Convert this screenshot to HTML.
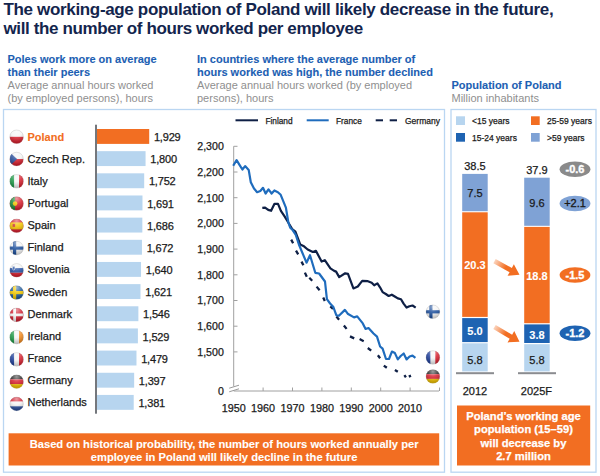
<!DOCTYPE html><html><head><meta charset="utf-8"><style>html,body{margin:0;padding:0;background:#fff;width:600px;height:476px;overflow:hidden}svg{display:block}text{font-family:"Liberation Sans",sans-serif}</style></head><body>
<svg width="600" height="476" viewBox="0 0 600 476">
<defs>
<clipPath id="cc"><circle cx="0" cy="0" r="7"/></clipPath>
<radialGradient id="gloss" cx="0.5" cy="0.15" r="0.75"><stop offset="0" stop-color="#fff" stop-opacity="0.55"/><stop offset="0.5" stop-color="#fff" stop-opacity="0.15"/><stop offset="1" stop-color="#000" stop-opacity="0.2"/></radialGradient>
<linearGradient id="arrg" x1="0" y1="0" x2="1" y2="0"><stop offset="0" stop-color="#f26e22" stop-opacity="0.3"/><stop offset="0.45" stop-color="#f26e22" stop-opacity="1"/></linearGradient>
</defs>
<text x="3.5" y="15" font-size="17" font-weight="bold" fill="#13254d" letter-spacing="-0.34">The working-age population of Poland will likely decrease in the future,</text>
<text x="3.5" y="34" font-size="17" font-weight="bold" fill="#13254d" letter-spacing="-0.38">will the number of hours worked per employee</text>
<text x="7.5" y="62.5" font-size="11" fill="#1d5fb3" font-weight="bold" stroke="#1d5fb3" stroke-width="0.1">Poles work more on average</text>
<text x="7.5" y="75.5" font-size="11" fill="#1d5fb3" font-weight="bold" stroke="#1d5fb3" stroke-width="0.1">than their peers</text>
<text x="7.5" y="89.2" font-size="11" fill="#8f8f8f">Average annual hours worked</text>
<text x="7.5" y="101.7" font-size="11" fill="#8f8f8f">(by employed persons), hours</text>
<text x="197" y="62.5" font-size="11" fill="#1d5fb3" font-weight="bold" stroke="#1d5fb3" stroke-width="0.1">In countries where the average number of</text>
<text x="197" y="75.5" font-size="11" fill="#1d5fb3" font-weight="bold" stroke="#1d5fb3" stroke-width="0.1">hours worked was high, the number declined</text>
<text x="197" y="89.2" font-size="11" fill="#8f8f8f">Average annual hours worked (by employed</text>
<text x="197" y="101.7" font-size="11" fill="#8f8f8f">persons), hours</text>
<text x="451.5" y="89.2" font-size="11" fill="#1d5fb3" font-weight="bold" stroke="#1d5fb3" stroke-width="0.1">Population of Poland</text>
<text x="451.5" y="101.7" font-size="11" fill="#8f8f8f">Million inhabitants</text>
<rect x="3.5" y="109.5" width="441" height="362.7" fill="none" stroke="#bad6f2" stroke-width="1.3"/>
<rect x="451" y="109.5" width="145" height="362.7" fill="none" stroke="#bad6f2" stroke-width="1.3"/>
<g transform="translate(16.60 136.80)"><g clip-path="url(#cc)"><rect x="-7" y="-7" width="14" height="7" fill="#f4f4f4"/><rect x="-7" y="0" width="14" height="7" fill="#d7202e"/><circle r="7" fill="url(#gloss)"/></g><circle r="6.8" fill="none" stroke="#9a9a9a" stroke-opacity="0.5" stroke-width="0.5"/></g>
<text x="27.5" y="140.70" font-size="11" fill="#f26e22" font-weight="bold" stroke="#f26e22" stroke-width="0.1">Poland</text>
<rect x="97" y="129.00" width="52.21" height="14.9" fill="#f26e22"/>
<text x="153.91" y="141.10" font-size="11" fill="#1a1a1a" stroke="#1a1a1a" stroke-width="0.25" letter-spacing="-0.18">1,929</text>
<g transform="translate(16.60 159.06)"><g clip-path="url(#cc)"><rect x="-7" y="-7" width="14" height="7" fill="#f4f4f4"/><rect x="-7" y="0" width="14" height="7" fill="#d7202e"/><path d="M-7,-7 L0.5,0 L-7,7Z" fill="#2a4f9c"/><circle r="7" fill="url(#gloss)"/></g><circle r="6.8" fill="none" stroke="#9a9a9a" stroke-opacity="0.5" stroke-width="0.5"/></g>
<text x="27.5" y="162.83" font-size="11" fill="#1a1a1a" stroke="#1a1a1a" stroke-width="0.25">Czech Rep.</text>
<rect x="97" y="151.16" width="48.56" height="14.9" fill="#b7d5ef"/>
<text x="150.26" y="163.27" font-size="11" fill="#1a1a1a" stroke="#1a1a1a" stroke-width="0.25" letter-spacing="-0.18">1,800</text>
<g transform="translate(16.60 181.32)"><g clip-path="url(#cc)"><rect x="-7" y="-7" width="4.7" height="14" fill="#1f9a48"/><rect x="-2.3" y="-7" width="4.7" height="14" fill="#f4f4f4"/><rect x="2.4" y="-7" width="4.6" height="14" fill="#d7202e"/><circle r="7" fill="url(#gloss)"/></g><circle r="6.8" fill="none" stroke="#9a9a9a" stroke-opacity="0.5" stroke-width="0.5"/></g>
<text x="27.5" y="184.96" font-size="11" fill="#1a1a1a" stroke="#1a1a1a" stroke-width="0.25">Italy</text>
<rect x="97" y="173.32" width="47.20" height="14.9" fill="#b7d5ef"/>
<text x="148.90" y="185.44" font-size="11" fill="#1a1a1a" stroke="#1a1a1a" stroke-width="0.25" letter-spacing="-0.18">1,752</text>
<g transform="translate(16.60 203.58)"><g clip-path="url(#cc)"><rect x="-7" y="-7" width="14" height="14" fill="#d7202e"/><rect x="-7" y="-7" width="5.5" height="14" fill="#1f8a3a"/><circle cx="-1.5" cy="0" r="2.3" fill="#f2c200"/><circle r="7" fill="url(#gloss)"/></g><circle r="6.8" fill="none" stroke="#9a9a9a" stroke-opacity="0.5" stroke-width="0.5"/></g>
<text x="27.5" y="207.09" font-size="11" fill="#1a1a1a" stroke="#1a1a1a" stroke-width="0.25">Portugal</text>
<rect x="97" y="195.48" width="45.48" height="14.9" fill="#b7d5ef"/>
<text x="147.18" y="207.61" font-size="11" fill="#1a1a1a" stroke="#1a1a1a" stroke-width="0.25" letter-spacing="-0.18">1,691</text>
<g transform="translate(16.60 225.84)"><g clip-path="url(#cc)"><rect x="-7" y="-7" width="14" height="14" fill="#d7202e"/><rect x="-7" y="-3.5" width="14" height="7" fill="#f4c300"/><rect x="-4" y="-2" width="2.5" height="3" fill="#c33"/><circle r="7" fill="url(#gloss)"/></g><circle r="6.8" fill="none" stroke="#9a9a9a" stroke-opacity="0.5" stroke-width="0.5"/></g>
<text x="27.5" y="229.22" font-size="11" fill="#1a1a1a" stroke="#1a1a1a" stroke-width="0.25">Spain</text>
<rect x="97" y="217.64" width="45.34" height="14.9" fill="#b7d5ef"/>
<text x="147.04" y="229.78" font-size="11" fill="#1a1a1a" stroke="#1a1a1a" stroke-width="0.25" letter-spacing="-0.18">1,686</text>
<g transform="translate(16.60 248.10)"><g clip-path="url(#cc)"><rect x="-7" y="-7" width="14" height="14" fill="#f4f4f4"/><rect x="-7" y="-1.6" width="14" height="3.2" fill="#1d4f9c"/><rect x="-3.6" y="-7" width="3.2" height="14" fill="#1d4f9c"/><circle r="7" fill="url(#gloss)"/></g><circle r="6.8" fill="none" stroke="#9a9a9a" stroke-opacity="0.5" stroke-width="0.5"/></g>
<text x="27.5" y="251.35" font-size="11" fill="#1a1a1a" stroke="#1a1a1a" stroke-width="0.25">Finland</text>
<rect x="97" y="239.80" width="44.94" height="14.9" fill="#b7d5ef"/>
<text x="146.64" y="251.95" font-size="11" fill="#1a1a1a" stroke="#1a1a1a" stroke-width="0.25" letter-spacing="-0.18">1,672</text>
<g transform="translate(16.60 270.36)"><g clip-path="url(#cc)"><rect x="-7" y="-7" width="14" height="4.7" fill="#f4f4f4"/><rect x="-7" y="-2.3" width="14" height="4.7" fill="#2450a3"/><rect x="-7" y="2.4" width="14" height="4.6" fill="#d7202e"/><path d="M-4.2,-4 h2.6 v2.6 l-1.3,1.3 l-1.3,-1.3Z" fill="#2450a3" stroke="#eee" stroke-width="0.6"/><circle r="7" fill="url(#gloss)"/></g><circle r="6.8" fill="none" stroke="#9a9a9a" stroke-opacity="0.5" stroke-width="0.5"/></g>
<text x="27.5" y="273.48" font-size="11" fill="#1a1a1a" stroke="#1a1a1a" stroke-width="0.25">Slovenia</text>
<rect x="97" y="261.96" width="44.03" height="14.9" fill="#b7d5ef"/>
<text x="145.73" y="274.12" font-size="11" fill="#1a1a1a" stroke="#1a1a1a" stroke-width="0.25" letter-spacing="-0.18">1,640</text>
<g transform="translate(16.60 292.62)"><g clip-path="url(#cc)"><rect x="-7" y="-7" width="14" height="14" fill="#1f5a9c"/><rect x="-7" y="-1.6" width="14" height="3.2" fill="#f2c800"/><rect x="-3.6" y="-7" width="3.2" height="14" fill="#f2c800"/><circle r="7" fill="url(#gloss)"/></g><circle r="6.8" fill="none" stroke="#9a9a9a" stroke-opacity="0.5" stroke-width="0.5"/></g>
<text x="27.5" y="295.61" font-size="11" fill="#1a1a1a" stroke="#1a1a1a" stroke-width="0.25">Sweden</text>
<rect x="97" y="284.12" width="43.50" height="14.9" fill="#b7d5ef"/>
<text x="145.20" y="296.29" font-size="11" fill="#1a1a1a" stroke="#1a1a1a" stroke-width="0.25" letter-spacing="-0.18">1,621</text>
<g transform="translate(16.60 314.88)"><g clip-path="url(#cc)"><rect x="-7" y="-7" width="14" height="14" fill="#d21f30"/><rect x="-7" y="-1.4" width="14" height="2.8" fill="#f4f4f4"/><rect x="-3.4" y="-7" width="2.8" height="14" fill="#f4f4f4"/><circle r="7" fill="url(#gloss)"/></g><circle r="6.8" fill="none" stroke="#9a9a9a" stroke-opacity="0.5" stroke-width="0.5"/></g>
<text x="27.5" y="317.74" font-size="11" fill="#1a1a1a" stroke="#1a1a1a" stroke-width="0.25">Denmark</text>
<rect x="97" y="306.28" width="41.37" height="14.9" fill="#b7d5ef"/>
<text x="143.07" y="318.46" font-size="11" fill="#1a1a1a" stroke="#1a1a1a" stroke-width="0.25" letter-spacing="-0.18">1,546</text>
<g transform="translate(16.60 337.14)"><g clip-path="url(#cc)"><rect x="-7" y="-7" width="4.7" height="14" fill="#1f9a48"/><rect x="-2.3" y="-7" width="4.7" height="14" fill="#f4f4f4"/><rect x="2.4" y="-7" width="4.6" height="14" fill="#f28a1e"/><circle r="7" fill="url(#gloss)"/></g><circle r="6.8" fill="none" stroke="#9a9a9a" stroke-opacity="0.5" stroke-width="0.5"/></g>
<text x="27.5" y="339.87" font-size="11" fill="#1a1a1a" stroke="#1a1a1a" stroke-width="0.25">Ireland</text>
<rect x="97" y="328.44" width="40.89" height="14.9" fill="#b7d5ef"/>
<text x="142.59" y="340.63" font-size="11" fill="#1a1a1a" stroke="#1a1a1a" stroke-width="0.25" letter-spacing="-0.18">1,529</text>
<g transform="translate(16.60 359.40)"><g clip-path="url(#cc)"><rect x="-7" y="-7" width="4.7" height="14" fill="#1f3f9a"/><rect x="-2.3" y="-7" width="4.7" height="14" fill="#f4f4f4"/><rect x="2.4" y="-7" width="4.6" height="14" fill="#d7202e"/><circle r="7" fill="url(#gloss)"/></g><circle r="6.8" fill="none" stroke="#9a9a9a" stroke-opacity="0.5" stroke-width="0.5"/></g>
<text x="27.5" y="362.00" font-size="11" fill="#1a1a1a" stroke="#1a1a1a" stroke-width="0.25">France</text>
<rect x="97" y="350.60" width="39.48" height="14.9" fill="#b7d5ef"/>
<text x="141.18" y="362.80" font-size="11" fill="#1a1a1a" stroke="#1a1a1a" stroke-width="0.25" letter-spacing="-0.18">1,479</text>
<g transform="translate(16.60 381.66)"><g clip-path="url(#cc)"><rect x="-7" y="-7" width="14" height="4.7" fill="#222"/><rect x="-7" y="-2.3" width="14" height="4.7" fill="#d7202e"/><rect x="-7" y="2.4" width="14" height="4.6" fill="#f2c200"/><circle r="7" fill="url(#gloss)"/></g><circle r="6.8" fill="none" stroke="#9a9a9a" stroke-opacity="0.5" stroke-width="0.5"/></g>
<text x="27.5" y="384.13" font-size="11" fill="#1a1a1a" stroke="#1a1a1a" stroke-width="0.25">Germany</text>
<rect x="97" y="372.76" width="37.16" height="14.9" fill="#b7d5ef"/>
<text x="138.86" y="384.97" font-size="11" fill="#1a1a1a" stroke="#1a1a1a" stroke-width="0.25" letter-spacing="-0.18">1,397</text>
<g transform="translate(16.60 403.92)"><g clip-path="url(#cc)"><rect x="-7" y="-7" width="14" height="4.7" fill="#d21f30"/><rect x="-7" y="-2.3" width="14" height="4.7" fill="#f4f4f4"/><rect x="-7" y="2.4" width="14" height="4.6" fill="#2a4f9c"/><circle r="7" fill="url(#gloss)"/></g><circle r="6.8" fill="none" stroke="#9a9a9a" stroke-opacity="0.5" stroke-width="0.5"/></g>
<text x="27.5" y="406.26" font-size="11" fill="#1a1a1a" stroke="#1a1a1a" stroke-width="0.25">Netherlands</text>
<rect x="97" y="394.92" width="36.71" height="14.9" fill="#b7d5ef"/>
<text x="138.41" y="407.14" font-size="11" fill="#1a1a1a" stroke="#1a1a1a" stroke-width="0.25" letter-spacing="-0.18">1,381</text>
<rect x="95" y="124.7" width="2" height="289" fill="#74777c"/>
<line x1="233.7" y1="146.3" x2="233.7" y2="386.3" stroke="#a0a0a0" stroke-width="1"/>
<line x1="233.7" y1="146.30" x2="237.5" y2="146.30" stroke="#a0a0a0" stroke-width="1"/>
<text x="223.8" y="150.20" font-size="10.6" fill="#1a1a1a" text-anchor="end" stroke="#1a1a1a" stroke-width="0.25">2,300</text>
<line x1="233.7" y1="172.00" x2="237.5" y2="172.00" stroke="#a0a0a0" stroke-width="1"/>
<text x="223.8" y="175.90" font-size="10.6" fill="#1a1a1a" text-anchor="end" stroke="#1a1a1a" stroke-width="0.25">2,200</text>
<line x1="233.7" y1="197.70" x2="237.5" y2="197.70" stroke="#a0a0a0" stroke-width="1"/>
<text x="223.8" y="201.60" font-size="10.6" fill="#1a1a1a" text-anchor="end" stroke="#1a1a1a" stroke-width="0.25">2,100</text>
<line x1="233.7" y1="223.40" x2="237.5" y2="223.40" stroke="#a0a0a0" stroke-width="1"/>
<text x="223.8" y="227.30" font-size="10.6" fill="#1a1a1a" text-anchor="end" stroke="#1a1a1a" stroke-width="0.25">2,000</text>
<line x1="233.7" y1="249.10" x2="237.5" y2="249.10" stroke="#a0a0a0" stroke-width="1"/>
<text x="223.8" y="253.00" font-size="10.6" fill="#1a1a1a" text-anchor="end" stroke="#1a1a1a" stroke-width="0.25">1,900</text>
<line x1="233.7" y1="274.80" x2="237.5" y2="274.80" stroke="#a0a0a0" stroke-width="1"/>
<text x="223.8" y="278.70" font-size="10.6" fill="#1a1a1a" text-anchor="end" stroke="#1a1a1a" stroke-width="0.25">1,800</text>
<line x1="233.7" y1="300.50" x2="237.5" y2="300.50" stroke="#a0a0a0" stroke-width="1"/>
<text x="223.8" y="304.40" font-size="10.6" fill="#1a1a1a" text-anchor="end" stroke="#1a1a1a" stroke-width="0.25">1,700</text>
<line x1="233.7" y1="326.20" x2="237.5" y2="326.20" stroke="#a0a0a0" stroke-width="1"/>
<text x="223.8" y="330.10" font-size="10.6" fill="#1a1a1a" text-anchor="end" stroke="#1a1a1a" stroke-width="0.25">1,600</text>
<line x1="233.7" y1="351.90" x2="237.5" y2="351.90" stroke="#a0a0a0" stroke-width="1"/>
<text x="223.8" y="355.80" font-size="10.6" fill="#1a1a1a" text-anchor="end" stroke="#1a1a1a" stroke-width="0.25">1,500</text>
<text x="223.8" y="395.2" font-size="10.6" fill="#1a1a1a" text-anchor="end" stroke="#1a1a1a" stroke-width="0.25">0</text>
<line x1="233.7" y1="391" x2="439" y2="391" stroke="#a0a0a0" stroke-width="1"/>
<line x1="263.10" y1="387.5" x2="263.10" y2="391" stroke="#a0a0a0" stroke-width="1"/>
<line x1="292.50" y1="387.5" x2="292.50" y2="391" stroke="#a0a0a0" stroke-width="1"/>
<line x1="321.90" y1="387.5" x2="321.90" y2="391" stroke="#a0a0a0" stroke-width="1"/>
<line x1="351.30" y1="387.5" x2="351.30" y2="391" stroke="#a0a0a0" stroke-width="1"/>
<line x1="380.70" y1="387.5" x2="380.70" y2="391" stroke="#a0a0a0" stroke-width="1"/>
<line x1="410.10" y1="387.5" x2="410.10" y2="391" stroke="#a0a0a0" stroke-width="1"/>
<line x1="439.50" y1="387.5" x2="439.50" y2="391" stroke="#a0a0a0" stroke-width="1"/>
<text x="233.70" y="411.9" font-size="10.8" fill="#1a1a1a" text-anchor="middle" stroke="#1a1a1a" stroke-width="0.25">1950</text>
<text x="263.10" y="411.9" font-size="10.8" fill="#1a1a1a" text-anchor="middle" stroke="#1a1a1a" stroke-width="0.25">1960</text>
<text x="292.50" y="411.9" font-size="10.8" fill="#1a1a1a" text-anchor="middle" stroke="#1a1a1a" stroke-width="0.25">1970</text>
<text x="321.90" y="411.9" font-size="10.8" fill="#1a1a1a" text-anchor="middle" stroke="#1a1a1a" stroke-width="0.25">1980</text>
<text x="351.30" y="411.9" font-size="10.8" fill="#1a1a1a" text-anchor="middle" stroke="#1a1a1a" stroke-width="0.25">1990</text>
<text x="380.70" y="411.9" font-size="10.8" fill="#1a1a1a" text-anchor="middle" stroke="#1a1a1a" stroke-width="0.25">2000</text>
<text x="410.10" y="411.9" font-size="10.8" fill="#1a1a1a" text-anchor="middle" stroke="#1a1a1a" stroke-width="0.25">2010</text>
<line x1="229.2" y1="388.2" x2="239" y2="385.2" stroke="#999" stroke-width="1"/>
<line x1="229.2" y1="391.8" x2="239" y2="388.8" stroke="#999" stroke-width="1"/>
<path d="M291.2,239.6 L293.1,243.2 M296.0,250.6 L298.2,254.3 M301.5,261.6 L303.4,265.3 M304.9,272.6 L306.8,276.8 M309.3,277.8 L312.2,280.7 M316.6,286.6 L319.6,290.3 M323.2,297.5 L324.8,300.9 M330.3,306.4 L333.0,308.8 M336.4,316.6 L339.1,319.7 M343.9,325.5 L346.6,328.9 M350.0,336.4 L354.2,338.4 M359.6,339.1 L363.7,341.2 M367.8,348.0 L371.2,350.7 M377.9,355.3 L380.1,358.2 M383.8,365.6 L386.8,367.8 M394.9,370.0 L397.8,371.8 M404.4,375.1 L405.9,377.4 M408.8,376.6 L411.0,375.6" fill="none" stroke="#0e1f45" stroke-width="2.3"/>
<polyline points="262.3,207.9 265.1,207.6 268.2,209.9 271.1,210.8 274.5,203.8 278.0,203.8 280.9,210.8 284.6,216.4 288.4,222.7 292.2,229.0 295.4,231.6 300.2,244.5 304.0,246.3 307.7,249.5 312.8,252.0 315.9,250.8 321.6,261.5 324.8,260.2 330.4,268.4 334.2,270.9 336.1,271.6 339.2,277.1 345.2,273.3 348.0,273.9 353.4,288.4 357.8,286.5 362.2,280.9 367.9,281.2 371.7,282.7 374.2,285.3 377.4,283.4 380.0,287.3 382.6,292.1 385.8,294.0 388.7,296.0 391.8,294.7 395.2,296.8 397.8,298.4 401.0,299.2 403.6,303.6 406.6,307.6 409.4,306.2 412.5,305.5 415.7,307.6" fill="none" stroke="#0e1f45" stroke-width="2.2" stroke-linejoin="round"/>
<polyline points="233.2,165.8 236.6,160.1 239.5,164.9 242.4,169.5 245.1,166.1 248.7,169.9 250.8,182.2 254.0,188.5 257.1,192.2 260.3,191.0 263.0,187.8 265.6,193.5 268.5,189.3 271.6,193.5 274.4,190.4 277.9,192.2 280.7,194.8 285.9,207.6 288.4,222.7 290.3,227.8 292.8,230.3 295.8,235.0 298.9,244.5 306.5,262.7 310.0,255.2 315.3,272.8 319.1,273.5 325.0,281.5 326.9,299.1 330.1,303.5 333.2,306.7 336.3,315.2 338.9,315.8 344.9,309.9 347.7,313.7 354.0,317.4 357.2,316.4 362.8,323.4 365.6,329.0 368.5,328.0 373.5,333.5 377.0,336.6 380.1,346.5 382.6,348.7 386.0,359.0 389.0,359.0 391.9,351.6 394.9,353.1 397.8,359.4 400.7,356.0 403.7,353.5 406.6,359.4 409.6,356.5 412.5,355.6 415.4,357.9" fill="none" stroke="#1f6cbd" stroke-width="2.2" stroke-linejoin="round"/>
<g transform="translate(432.90 311.80)"><g clip-path="url(#cc)"><rect x="-7" y="-7" width="14" height="14" fill="#f4f4f4"/><rect x="-7" y="-1.6" width="14" height="3.2" fill="#1d4f9c"/><rect x="-3.6" y="-7" width="3.2" height="14" fill="#1d4f9c"/><circle r="7" fill="url(#gloss)"/></g><circle r="6.8" fill="none" stroke="#9a9a9a" stroke-opacity="0.5" stroke-width="0.5"/></g>
<g transform="translate(432.90 357.50)"><g clip-path="url(#cc)"><rect x="-7" y="-7" width="4.7" height="14" fill="#1f3f9a"/><rect x="-2.3" y="-7" width="4.7" height="14" fill="#f4f4f4"/><rect x="2.4" y="-7" width="4.6" height="14" fill="#d7202e"/><circle r="7" fill="url(#gloss)"/></g><circle r="6.8" fill="none" stroke="#9a9a9a" stroke-opacity="0.5" stroke-width="0.5"/></g>
<g transform="translate(432.90 376.50)"><g clip-path="url(#cc)"><rect x="-7" y="-7" width="14" height="4.7" fill="#222"/><rect x="-7" y="-2.3" width="14" height="4.7" fill="#d7202e"/><rect x="-7" y="2.4" width="14" height="4.6" fill="#f2c200"/><circle r="7" fill="url(#gloss)"/></g><circle r="6.8" fill="none" stroke="#9a9a9a" stroke-opacity="0.5" stroke-width="0.5"/></g>
<line x1="235.5" y1="120.3" x2="258" y2="120.3" stroke="#0e1f45" stroke-width="2"/>
<text x="265.4" y="124.4" font-size="8.3" fill="#1a1a1a" stroke="#1a1a1a" stroke-width="0.25">Finland</text>
<line x1="306.7" y1="120.3" x2="328.7" y2="120.3" stroke="#1f6cbd" stroke-width="2"/>
<text x="336" y="124.4" font-size="8.3" fill="#1a1a1a" stroke="#1a1a1a" stroke-width="0.25">France</text>
<line x1="375.7" y1="120.3" x2="383" y2="120.3" stroke="#0e1f45" stroke-width="2"/>
<line x1="389.7" y1="120.3" x2="397" y2="120.3" stroke="#0e1f45" stroke-width="2"/>
<text x="405" y="124.4" font-size="8.5" fill="#1a1a1a" stroke="#1a1a1a" stroke-width="0.25">Germany</text>
<rect x="8.6" y="433.3" width="430.6" height="32.2" fill="#f26e22"/>
<text x="224.1" y="447.5" font-size="11.2" fill="#fff" font-weight="bold" text-anchor="middle" stroke="#fff" stroke-width="0.1">Based on historical probability, the number of hours worked annually per</text>
<text x="224.1" y="460.5" font-size="11.2" fill="#fff" font-weight="bold" text-anchor="middle" stroke="#fff" stroke-width="0.1">employee in Poland will likely decline in the future</text>
<rect x="456" y="116.3" width="9" height="8.7" fill="#b7d5ef"/>
<text x="472" y="124.3" font-size="8.5" fill="#1a1a1a" stroke="#1a1a1a" stroke-width="0.25">&lt;15 years</text>
<rect x="531" y="116.3" width="8.7" height="8.7" fill="#f26e22"/>
<text x="547" y="124.3" font-size="8.5" fill="#1a1a1a" stroke="#1a1a1a" stroke-width="0.25">25-59 years</text>
<rect x="456" y="133" width="9" height="8.7" fill="#1e63b2"/>
<text x="472" y="140.6" font-size="8.5" fill="#1a1a1a" stroke="#1a1a1a" stroke-width="0.25">15-24 years</text>
<rect x="531" y="133" width="8.7" height="8.7" fill="#7fa2d5"/>
<text x="547" y="140.6" font-size="8.5" fill="#1a1a1a" stroke="#1a1a1a" stroke-width="0.25">&gt;59 years</text>
<rect x="462.20" y="173.90" width="25.5" height="37.30" fill="#7fa2d5"/>
<rect x="462.20" y="212.30" width="25.5" height="104.60" fill="#f26e22"/>
<rect x="462.20" y="318.10" width="25.5" height="24.00" fill="#1e63b2"/>
<rect x="462.20" y="343.30" width="25.5" height="28.10" fill="#b7d5ef"/>
<rect x="524.20" y="177.70" width="25.5" height="48.10" fill="#7fa2d5"/>
<rect x="524.20" y="226.90" width="25.5" height="96.30" fill="#f26e22"/>
<rect x="524.20" y="324.40" width="25.5" height="18.60" fill="#1e63b2"/>
<rect x="524.20" y="344.20" width="25.5" height="27.20" fill="#b7d5ef"/>
<rect x="456" y="372.2" width="38" height="2" fill="#8a8c90"/>
<rect x="518" y="372.2" width="38" height="2" fill="#8a8c90"/>
<text x="474.95" y="169.7" font-size="11" fill="#1a1a1a" text-anchor="middle" stroke="#1a1a1a" stroke-width="0.25">38.5</text>
<text x="536.95" y="173.6" font-size="11" fill="#1a1a1a" text-anchor="middle" stroke="#1a1a1a" stroke-width="0.25">37.9</text>
<text x="474.95" y="197.1" font-size="11" fill="#1a1a1a" text-anchor="middle" stroke="#1a1a1a" stroke-width="0.25">7.5</text>
<text x="536.95" y="206.5" font-size="11" fill="#1a1a1a" text-anchor="middle" stroke="#1a1a1a" stroke-width="0.25">9.6</text>
<text x="474.95" y="269.2" font-size="11" fill="#fff" font-weight="bold" text-anchor="middle" stroke="#fff" stroke-width="0.1">20.3</text>
<text x="536.95" y="280.4" font-size="11" fill="#fff" font-weight="bold" text-anchor="middle" stroke="#fff" stroke-width="0.1">18.8</text>
<text x="474.95" y="335.3" font-size="11" fill="#fff" font-weight="bold" text-anchor="middle" stroke="#fff" stroke-width="0.1">5.0</text>
<text x="536.95" y="338.5" font-size="11" fill="#fff" font-weight="bold" text-anchor="middle" stroke="#fff" stroke-width="0.1">3.8</text>
<text x="474.95" y="363.5" font-size="11" fill="#1a1a1a" text-anchor="middle" stroke="#1a1a1a" stroke-width="0.25">5.8</text>
<text x="536.95" y="363.5" font-size="11" fill="#1a1a1a" text-anchor="middle" stroke="#1a1a1a" stroke-width="0.25">5.8</text>
<text x="474.95" y="395.2" font-size="11" fill="#1a1a1a" text-anchor="middle" stroke="#1a1a1a" stroke-width="0.25">2012</text>
<text x="536.4" y="395.2" font-size="11" fill="#1a1a1a" text-anchor="middle" stroke="#1a1a1a" stroke-width="0.25">2025F</text>
<ellipse cx="575" cy="169.20" rx="15.4" ry="7.8" fill="#8a8a8a"/>
<text x="575" y="173.10" font-size="11" fill="#fff" font-weight="bold" text-anchor="middle" stroke="#fff" stroke-width="0.1" style="stroke-width:0.35px">-0.6</text>
<ellipse cx="575" cy="203.50" rx="15.4" ry="7.8" fill="#7fa2d5"/>
<text x="575" y="207.40" font-size="11" fill="#1a1a1a" text-anchor="middle" stroke="#1a1a1a" stroke-width="0.25" style="stroke-width:0.35px">+2.1</text>
<ellipse cx="575" cy="275.00" rx="15.4" ry="7.8" fill="#f26e22"/>
<text x="575" y="278.90" font-size="11" fill="#fff" font-weight="bold" text-anchor="middle" stroke="#fff" stroke-width="0.1" style="stroke-width:0.35px">-1.5</text>
<ellipse cx="575" cy="333.30" rx="15.4" ry="7.8" fill="#1e63b2"/>
<text x="575" y="337.20" font-size="11" fill="#fff" font-weight="bold" text-anchor="middle" stroke="#fff" stroke-width="0.1" style="stroke-width:0.35px">-1.2</text>
<g transform="translate(494.50 261.20) rotate(28.55)"><path d="M0,-2.40 L18.46,-2.40 L18.46,-6.60 L28.46,0 L18.46,6.60 L18.46,2.40 L0,2.40 Z" fill="url(#arrg)"/></g>
<g transform="translate(494.50 327.00) rotate(30.63)"><path d="M0,-2.40 L19.05,-2.40 L19.05,-6.60 L29.05,0 L19.05,6.60 L19.05,2.40 L0,2.40 Z" fill="url(#arrg)"/></g>
<rect x="457" y="405.5" width="133.2" height="60" fill="#f26e22"/>
<text x="523.5" y="419.80" font-size="11.2" fill="#fff" font-weight="bold" text-anchor="middle" stroke="#fff" stroke-width="0.1" style="stroke-width:0.25px">Poland&#8217;s working age</text>
<text x="523.5" y="433.25" font-size="11.2" fill="#fff" font-weight="bold" text-anchor="middle" stroke="#fff" stroke-width="0.1" style="stroke-width:0.25px">population (15&#8211;59)</text>
<text x="523.5" y="446.70" font-size="11.2" fill="#fff" font-weight="bold" text-anchor="middle" stroke="#fff" stroke-width="0.1" style="stroke-width:0.25px">will decrease by</text>
<text x="523.5" y="460.15" font-size="11.2" fill="#fff" font-weight="bold" text-anchor="middle" stroke="#fff" stroke-width="0.1" style="stroke-width:0.25px">2.7 million</text>
</svg></body></html>
